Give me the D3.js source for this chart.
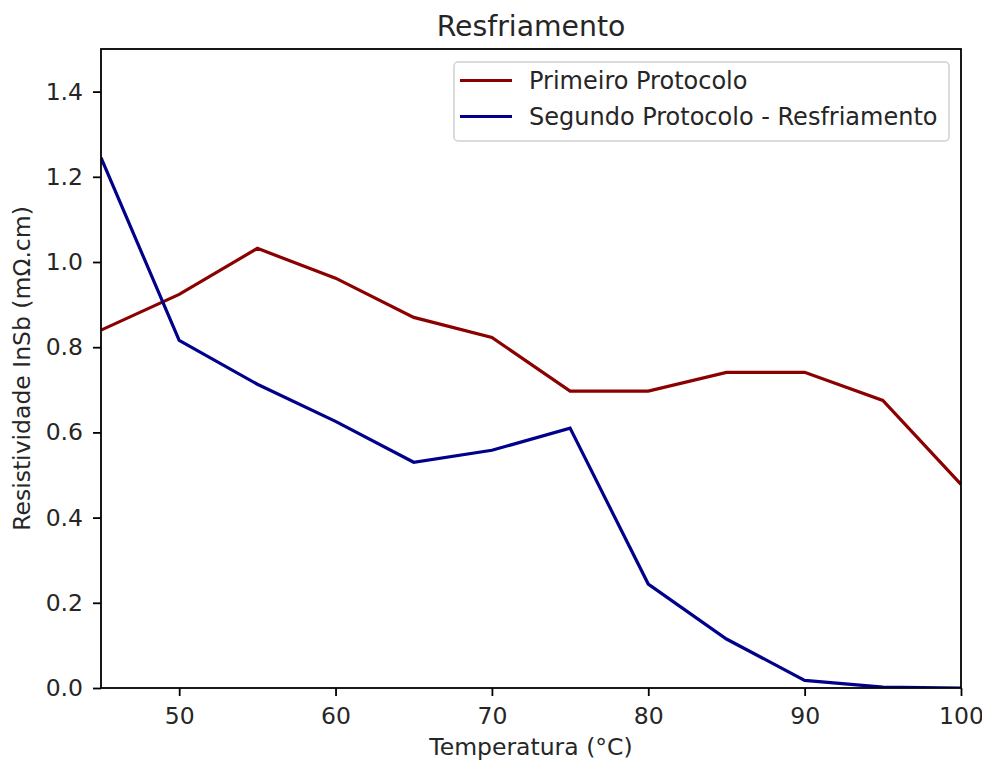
<!DOCTYPE html>
<html>
<head>
<meta charset="utf-8">
<script src="https://cdn.jsdelivr.net/npm/d3@7"></script>
<style>
body { margin: 0; background: #fff; }
text { font-family: "DejaVu Sans", sans-serif; fill: #262626; }
</style>
</head>
<body>
<svg width="982" height="763"></svg>
<script>
// temperaturas (°C)
const temperaturas = [45, 50, 55, 60, 65, 70, 75, 80, 85, 90, 95, 100];
// resistividade (mΩ.cm)
const primeiroProtocolo = [0.840, 0.924, 1.032, 0.962, 0.870, 0.823, 0.697, 0.697, 0.741, 0.741, 0.675, 0.478];
const segundoProtocolo = [1.245, 0.816, 0.713, 0.626, 0.530, 0.558, 0.610, 0.244, 0.115, 0.018, 0.002, 0.000];
const ticksX = [50, 60, 70, 80, 90, 100];
const ticksY = [0.0, 0.2, 0.4, 0.6, 0.8, 1.0, 1.2, 1.4];

const svg = d3.select("svg");
const margem = {left: 101, right: 21, top: 49, bottom: 75};
const width = +svg.attr("width");
const height = +svg.attr("height");

const x = d3.scaleLinear().domain([45, 100]).range([margem.left, width - margem.right]);
const y = d3.scaleLinear().domain([0, 1.5]).range([height - margem.bottom, margem.top]);

// eixos
const eixoX = svg.append("g")
    .attr("transform", `translate(0,${height - margem.bottom})`)
    .call(d3.axisBottom(x).tickValues(ticksX).tickSize(8).tickPadding(11));
const eixoY = svg.append("g")
    .attr("transform", `translate(${margem.left},0)`)
    .call(d3.axisLeft(y).tickValues(ticksY).tickSize(8).tickPadding(10).tickFormat(d3.format(".1f")));
[eixoX, eixoY].forEach(g => {
    g.select(".domain").remove();
    g.selectAll("line").attr("stroke", "#000").attr("stroke-width", 1.8);
    g.selectAll("text").style("font-size", "23.5px").attr("fill", "#262626");
});

// linhas
const linha = d3.line()
    .x((d, i) => x(temperaturas[i]))
    .y(d => y(d));

const series = [
    {nome: "Primeiro Protocolo", valores: primeiroProtocolo, cor: "#8b0000"},
    {nome: "Segundo Protocolo - Resfriamento", valores: segundoProtocolo, cor: "#00008b"}
];

const area = svg.append("g");
area.append("clipPath").attr("id", "clip")
    .append("rect")
    .attr("x", margem.left).attr("y", margem.top)
    .attr("width", width - margem.left - margem.right)
    .attr("height", height - margem.top - margem.bottom);

series.forEach(s => {
    area.append("path")
        .attr("d", linha(s.valores))
        .attr("fill", "none")
        .attr("stroke", s.cor)
        .attr("stroke-width", 3.2)
        .attr("clip-path", "url(#clip)");
});

// moldura
svg.append("rect")
    .attr("x", margem.left).attr("y", margem.top)
    .attr("width", width - margem.left - margem.right)
    .attr("height", height - margem.top - margem.bottom)
    .attr("fill", "none")
    .attr("stroke", "#000")
    .attr("stroke-width", 1.8);

// títulos
svg.append("text")
    .attr("x", (margem.left + width - margem.right) / 2)
    .attr("y", 36)
    .attr("text-anchor", "middle")
    .style("font-size", "28.3px")
    .text("Resfriamento");

svg.append("text")
    .attr("x", (margem.left + width - margem.right) / 2)
    .attr("y", 755)
    .attr("text-anchor", "middle")
    .style("font-size", "23.5px")
    .text("Temperatura (°C)");

svg.append("text")
    .attr("transform", `translate(30,${(margem.top + height - margem.bottom) / 2}) rotate(-90)`)
    .attr("text-anchor", "middle")
    .style("font-size", "23.5px")
    .text("Resistividade InSb (mΩ.cm)");

// legenda
const legenda = svg.append("g").attr("transform", "translate(454,62)");
legenda.append("rect")
    .attr("width", 495).attr("height", 79)
    .attr("rx", 4)
    .attr("fill", "#fff")
    .attr("fill-opacity", 0.8)
    .attr("stroke", "#d0d0d0")
    .attr("stroke-width", 1.5);
series.forEach((s, i) => {
    const ly = 18.5 + i * 36;
    legenda.append("line")
        .attr("x1", 6).attr("x2", 58)
        .attr("y1", ly).attr("y2", ly)
        .attr("stroke", s.cor).attr("stroke-width", 3.2);
    legenda.append("text")
        .attr("x", 75).attr("y", ly + 8.5)
        .style("font-size", "24px")
        .text(s.nome);
});
</script>
</body>
</html>
